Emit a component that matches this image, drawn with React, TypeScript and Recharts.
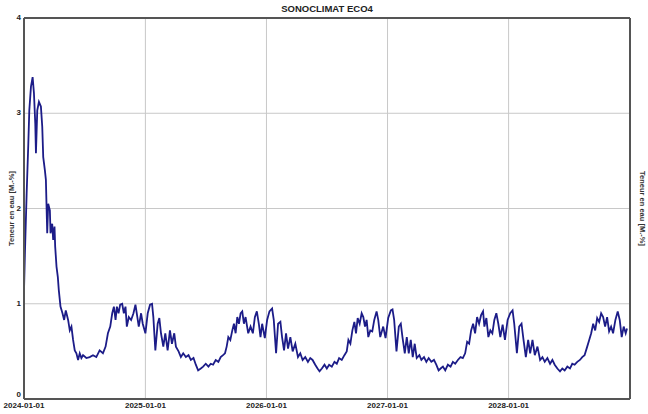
import React from 'react';
import { LineChart, Line, XAxis, YAxis, CartesianGrid, ReferenceLine } from 'recharts';

const DAY_MS = 86400000;
const START = Date.UTC(2024, 0, 1);
const END = Date.UTC(2029, 0, 1);

// days since 2024-01-01 / moisture readings [M.-%], one pair of arrays per stretch
const days2024 = [0, 3, 8, 13, 16, 21, 26, 30, 34, 36, 40, 45, 51, 55, 58, 63, 66, 70, 73, 78, 80, 85, 88, 92, 94, 98, 102, 105, 110, 116, 121, 126, 133, 138, 143, 148, 153, 158, 163, 168, 173, 178, 188, 198, 208, 218, 228, 238, 246, 253, 260, 266, 271, 276, 280, 285, 290, 296, 301, 306, 310, 316, 323, 330, 336, 340, 346, 353];
const vals2024 = [1.14, 1.56, 2.16, 2.68, 3.03, 3.28, 3.38, 3.21, 2.89, 2.58, 3.03, 3.12, 3.07, 2.86, 2.54, 2.4, 2.3, 1.74, 2.05, 1.98, 1.74, 1.84, 1.67, 1.81, 1.6, 1.39, 1.28, 1.14, 0.97, 0.9, 0.83, 0.93, 0.83, 0.72, 0.76, 0.62, 0.51, 0.48, 0.41, 0.48, 0.43, 0.46, 0.43, 0.44, 0.46, 0.44, 0.51, 0.48, 0.55, 0.69, 0.76, 0.9, 0.97, 0.83, 0.97, 0.9, 0.99, 1.0, 0.9, 0.97, 0.76, 0.86, 0.83, 0.9, 0.99, 0.9, 0.76, 0.9];

const days2025 = [358, 366, 373, 380, 386, 390, 396, 403, 408, 413, 420, 426, 433, 440, 446, 453, 458, 466, 473, 480, 488, 496, 503, 511, 518, 525, 533, 540, 548, 556, 563, 570, 578, 586, 593, 600, 606, 611, 616, 622, 628, 633, 638, 643, 648, 653, 658, 663, 668, 676, 683, 690, 696, 702, 708, 713];
const vals2025 = [0.79, 0.69, 0.9, 0.99, 1.0, 0.86, 0.51, 0.79, 0.85, 0.69, 0.55, 0.69, 0.51, 0.72, 0.58, 0.69, 0.55, 0.5, 0.44, 0.48, 0.44, 0.46, 0.41, 0.43, 0.36, 0.3, 0.32, 0.34, 0.37, 0.34, 0.37, 0.36, 0.41, 0.39, 0.44, 0.46, 0.48, 0.55, 0.65, 0.62, 0.72, 0.79, 0.69, 0.86, 0.79, 0.9, 0.92, 0.79, 0.86, 0.69, 0.76, 0.69, 0.86, 0.92, 0.79, 0.65];

const days2026 = [718, 726, 733, 740, 748, 753, 760, 766, 773, 778, 784, 790, 796, 803, 810, 818, 826, 833, 840, 848, 856, 863, 870, 878, 885, 891, 898, 906, 913, 920, 928, 936, 943, 950, 958, 966, 973, 978, 984, 990, 996, 1001, 1006, 1012, 1018, 1023, 1028, 1033, 1038, 1044, 1050, 1056, 1063, 1068, 1074];
const vals2026 = [0.79, 0.64, 0.83, 0.92, 0.95, 0.83, 0.48, 0.79, 0.81, 0.65, 0.51, 0.69, 0.53, 0.65, 0.5, 0.58, 0.44, 0.48, 0.41, 0.44, 0.39, 0.43, 0.41, 0.36, 0.32, 0.29, 0.32, 0.36, 0.32, 0.36, 0.34, 0.39, 0.37, 0.43, 0.41, 0.46, 0.5, 0.62, 0.58, 0.72, 0.81, 0.69, 0.85, 0.79, 0.9, 0.86, 0.76, 0.83, 0.65, 0.72, 0.71, 0.83, 0.92, 0.83, 0.65];

const days2027 = [1083, 1090, 1098, 1106, 1111, 1116, 1123, 1130, 1136, 1141, 1148, 1154, 1160, 1166, 1172, 1178, 1184, 1192, 1198, 1206, 1213, 1220, 1228, 1236, 1243, 1250, 1256, 1263, 1270, 1278, 1286, 1293, 1300, 1308, 1316, 1323, 1330, 1336, 1342, 1348, 1354, 1360, 1366, 1372, 1378, 1384, 1388, 1394, 1400, 1406, 1412, 1418, 1424, 1430, 1436];
const vals2027 = [0.76, 0.64, 0.85, 0.93, 0.94, 0.83, 0.5, 0.76, 0.79, 0.65, 0.48, 0.65, 0.48, 0.62, 0.44, 0.58, 0.43, 0.46, 0.41, 0.44, 0.39, 0.43, 0.39, 0.41, 0.36, 0.3, 0.32, 0.34, 0.3, 0.36, 0.34, 0.39, 0.37, 0.41, 0.44, 0.43, 0.48, 0.6, 0.58, 0.72, 0.79, 0.69, 0.86, 0.79, 0.88, 0.92, 0.76, 0.85, 0.65, 0.72, 0.69, 0.83, 0.9, 0.79, 0.65];

const days2028 = [1443, 1450, 1458, 1466, 1473, 1478, 1486, 1493, 1500, 1506, 1513, 1520, 1526, 1533, 1540, 1548, 1556, 1563, 1570, 1578, 1586, 1593, 1600, 1608, 1616, 1623, 1630, 1638, 1646, 1653, 1660, 1668, 1676, 1683, 1690, 1698, 1704, 1710, 1716, 1722, 1728, 1734, 1740, 1746, 1752, 1758, 1764, 1770, 1776, 1783, 1790, 1796, 1802, 1808, 1814, 1818];
const vals2028 = [0.78, 0.62, 0.83, 0.9, 0.93, 0.79, 0.48, 0.76, 0.79, 0.62, 0.44, 0.62, 0.48, 0.62, 0.46, 0.55, 0.41, 0.44, 0.39, 0.43, 0.37, 0.41, 0.36, 0.32, 0.29, 0.32, 0.3, 0.34, 0.32, 0.37, 0.36, 0.39, 0.41, 0.44, 0.46, 0.55, 0.62, 0.69, 0.79, 0.72, 0.85, 0.81, 0.9, 0.86, 0.76, 0.86, 0.71, 0.76, 0.69, 0.83, 0.92, 0.83, 0.65, 0.76, 0.69, 0.74];

const yearTicks = ['2024-01-01', '2025-01-01', '2026-01-01', '2027-01-01', '2028-01-01'];
const valueTicks = [0, 1, 2, 3, 4];

const allDays = [...days2024, ...days2025, ...days2026, ...days2027, ...days2028];
const allVals = [...vals2024, ...vals2025, ...vals2026, ...vals2027, ...vals2028];
const data = allDays.map((d, i) => ({ t: START + d * DAY_MS, v: allVals[i] }));

const FONT = '"Liberation Sans", Arial, sans-serif';
const tickStyle = { fontSize: 8, fill: '#222', fontFamily: FONT, fontWeight: 700 };

const fmtDate = (ms: number) => new Date(ms).toISOString().slice(0, 10);

// value ticks; the 0 is nudged up so it clears the first date label
const ValueTick = ({ x, y, payload, textAnchor }: any) => (
    <text
        x={x}
        y={payload.value === 0 ? y - 4 : y}
        textAnchor={textAnchor}
        dominantBaseline="middle"
        style={tickStyle}
    >
        {payload.value}
    </text>
);

const AxisTitle = ({ viewBox, side }: any) => {
    const vb = viewBox || {};
    const cy = (vb.y ?? 18) + (vb.height ?? 381) / 2;
    const cx = side === 'left' ? 12 : 642;
    const angle = side === 'left' ? -90 : 90;
    return (
        <text
            x={cx}
            y={cy}
            transform={`rotate(${angle} ${cx} ${cy})`}
            textAnchor="middle"
            dominantBaseline="middle"
            style={{ fontSize: 7.5, fill: '#333', fontFamily: FONT, fontWeight: 700 }}
        >
            Teneur en eau [M.-%]
        </text>
    );
};

export default function App() {
    return (
        <div style={{ position: 'absolute', left: 0, top: 0, width: 648, height: 414, background: '#fff' }}>
            <div
                style={{
                    position: 'absolute',
                    left: 24,
                    width: 606,
                    top: 3,
                    textAlign: 'center',
                    fontFamily: FONT,
                    fontSize: 9.5,
                    fontWeight: 700,
                    color: '#222',
                }}
            >
                SONOCLIMAT ECO4
            </div>
            <LineChart width={648} height={414} data={data} margin={{ top: 18, right: 0, bottom: 0, left: 0 }}>
                <CartesianGrid stroke="#c8c8c8" strokeWidth={1} yAxisId="left" />
                <XAxis
                    dataKey="t"
                    type="number"
                    scale="time"
                    domain={[START, END]}
                    ticks={yearTicks.map((s) => Date.parse(s))}
                    tickFormatter={fmtDate}
                    height={15}
                    tick={tickStyle}
                    tickLine={false}
                    tickSize={2}
                    tickMargin={1}
                    axisLine={{ stroke: '#555', strokeWidth: 2 }}
                    allowDataOverflow
                />
                <YAxis
                    yAxisId="left"
                    orientation="left"
                    width={24}
                    domain={[0, 4]}
                    ticks={valueTicks}
                    tick={<ValueTick />}
                    tickLine={false}
                    tickSize={2}
                    tickMargin={1}
                    axisLine={{ stroke: '#555', strokeWidth: 2 }}
                    label={{ content: (p: any) => <AxisTitle {...p} side="left" /> }}
                />
                <YAxis
                    yAxisId="right"
                    orientation="right"
                    width={18}
                    domain={[0, 4]}
                    ticks={valueTicks}
                    tick={tickStyle}
                    tickLine={false}
                    tickSize={2}
                    tickMargin={1}
                    axisLine={{ stroke: '#555', strokeWidth: 2 }}
                    label={{ content: (p: any) => <AxisTitle {...p} side="right" /> }}
                />
                <ReferenceLine yAxisId="left" y={4} stroke="#555" strokeWidth={2} />
                <Line
                    yAxisId="left"
                    dataKey="v"
                    type="linear"
                    stroke="#1c1c88"
                    strokeWidth={1.8}
                    dot={false}
                    isAnimationActive={false}
                />
            </LineChart>
        </div>
    );
}
